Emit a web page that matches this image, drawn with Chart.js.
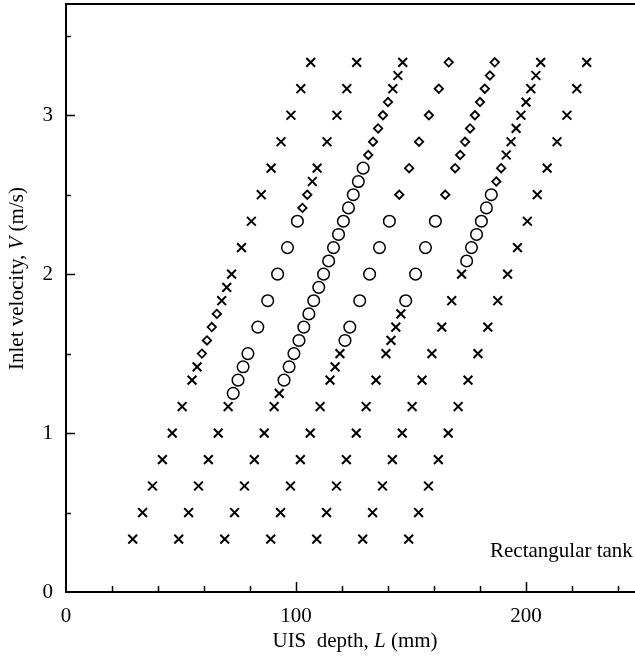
<!DOCTYPE html>
<html>
<head>
<meta charset="utf-8">
<script src="https://cdn.jsdelivr.net/npm/chart.js@4/dist/chart.umd.min.js"></script>
<style>
    html, body { margin: 0; padding: 0; background: #fff; }
    #wrap { width: 635px; height: 660px; }
</style>
</head>
<body>
<div id="wrap"><canvas id="uis-chart" width="635" height="660"></canvas></div>
<script>
// Points: UIS depth L (mm) against inlet velocity V (m/s)
// x marks
const crossL = [
    29.0, 33.3, 37.6, 41.9, 46.2, 50.5, 54.8, 57.0, 67.7, 69.9, 72.0, 76.3, 80.6, 84.9, 89.2, 93.5, 97.8, 102.1, 106.4,
    49.0, 53.3, 57.6, 61.9, 66.2, 70.5, 107.1, 109.2, 113.5, 117.8, 122.1, 126.4,
    69.0, 73.3, 77.6, 81.9, 86.2, 90.5, 92.7, 142.1, 144.3, 146.4,
    89.0, 93.3, 97.6, 101.9, 106.2, 110.5, 114.8, 117.0, 119.1,
    109.0, 113.3, 117.6, 121.9, 126.2, 130.5, 134.8, 139.1, 141.3, 143.4, 145.6,
    129.0, 133.3, 137.6, 141.9, 146.2, 150.5, 154.8, 159.1, 163.4, 167.7, 172.0, 191.4, 193.5, 195.7, 197.8, 200.0, 202.1, 204.3, 206.4,
    149.0, 153.3, 157.6, 161.9, 166.2, 170.5, 174.8, 179.1, 183.4, 187.7, 192.0, 196.3, 200.6, 204.9, 209.2, 213.5, 217.8, 222.1, 226.4,
];
const crossV = [
    0.333, 0.5, 0.667, 0.833, 1.0, 1.167, 1.333, 1.417, 1.833, 1.917, 2.0, 2.167, 2.333, 2.5, 2.667, 2.833, 3.0, 3.167, 3.333,
    0.333, 0.5, 0.667, 0.833, 1.0, 1.167, 2.583, 2.667, 2.833, 3.0, 3.167, 3.333,
    0.333, 0.5, 0.667, 0.833, 1.0, 1.167, 1.25, 3.167, 3.25, 3.333,
    0.333, 0.5, 0.667, 0.833, 1.0, 1.167, 1.333, 1.417, 1.5,
    0.333, 0.5, 0.667, 0.833, 1.0, 1.167, 1.333, 1.5, 1.583, 1.667, 1.75,
    0.333, 0.5, 0.667, 0.833, 1.0, 1.167, 1.333, 1.5, 1.667, 1.833, 2.0, 2.75, 2.833, 2.917, 3.0, 3.083, 3.167, 3.25, 3.333,
    0.333, 0.5, 0.667, 0.833, 1.0, 1.167, 1.333, 1.5, 1.667, 1.833, 2.0, 2.167, 2.333, 2.5, 2.667, 2.833, 3.0, 3.167, 3.333,
];

// open diamonds
const diamondL = [
    59.1, 61.3, 63.4, 65.6,
    102.8, 104.9,
    131.4, 133.5, 135.7, 137.8, 140.0,
    144.9, 149.2, 153.5, 157.8, 162.1, 166.4,
    164.9, 169.2, 171.4, 173.5, 175.7, 177.8, 180.0, 182.1, 184.3, 186.4,
    187.1, 189.2,
];
const diamondV = [
    1.5, 1.583, 1.667, 1.75,
    2.417, 2.5,
    2.75, 2.833, 2.917, 3.0, 3.083,
    2.5, 2.667, 2.833, 3.0, 3.167, 3.333,
    2.5, 2.667, 2.75, 2.833, 2.917, 3.0, 3.083, 3.167, 3.25, 3.333,
    2.583, 2.667,
];

// open circles
const circleL = [
    72.7, 74.8, 77.0, 79.1, 83.4, 87.7, 92.0, 96.3, 100.6,
    94.8, 97.0, 99.1, 101.3, 103.4, 105.6, 107.7, 109.9, 112.0, 114.2, 116.3, 118.5, 120.6, 122.8, 124.9, 127.1, 129.2,
    121.3, 123.4, 127.7, 132.0, 136.3, 140.6,
    147.7, 152.0, 156.3, 160.6,
    174.2, 176.3, 178.5, 180.6, 182.8, 184.9,
];
const circleV = [
    1.25, 1.333, 1.417, 1.5, 1.667, 1.833, 2.0, 2.167, 2.333,
    1.333, 1.417, 1.5, 1.583, 1.667, 1.75, 1.833, 1.917, 2.0, 2.083, 2.167, 2.25, 2.333, 2.417, 2.5, 2.583, 2.667,
    1.583, 1.667, 1.833, 2.0, 2.167, 2.333,
    1.833, 2.0, 2.167, 2.333,
    2.083, 2.167, 2.25, 2.333, 2.417, 2.5,
];

// labelled ticks
const xTickLabels = [0, 100, 200];
const yTickLabels = [0, 1, 2, 3];

const serif = '"Liberation Serif", "DejaVu Serif", serif';
const fontSize = 21;

const toPoints = (xs, ys) => xs.map((v, i) => ({ x: v, y: ys[i] }));

// inward ticks and the top frame line
const frameTicks = {
    id: "frameTicks",
    afterDraw(chart) {
        const { ctx, chartArea, scales } = chart;
        const { x, y } = scales;
        ctx.save();
        ctx.strokeStyle = "#000";
        ctx.lineWidth = 2;
        ctx.beginPath();
        ctx.moveTo(chartArea.left - 1, chartArea.top);
        ctx.lineTo(chartArea.right, chartArea.top);
        ctx.stroke();

        ctx.lineWidth = 1.5;
        x.ticks.forEach((t) => {
            if (t.value === 0) return;
            const px = Math.round(x.getPixelForValue(t.value)) + 0.5;
            const len = t.value % 100 === 0 ? 10 : 6;
            ctx.beginPath();
            ctx.moveTo(px, chartArea.bottom);
            ctx.lineTo(px, chartArea.bottom - len);
            ctx.stroke();
        });
        y.ticks.forEach((t) => {
            if (t.value === 0) return;
            const py = Math.round(y.getPixelForValue(t.value)) + 0.5;
            const len = Number.isInteger(t.value) ? 9 : 5;
            ctx.beginPath();
            ctx.moveTo(chartArea.left, py);
            ctx.lineTo(chartArea.left + len, py);
            ctx.stroke();
        });
        ctx.restore();
    },
};

// draws a run of text pieces, some of them italic
const drawRuns = (ctx, runs, x, y) => {
    let cx = x;
    runs.forEach(([text, italic]) => {
        ctx.font = `${italic ? "italic " : ""}${fontSize}px ${serif}`;
        ctx.fillText(text, cx, y);
        cx += ctx.measureText(text).width;
    });
};

const runsWidth = (ctx, runs) =>
    runs.reduce((w, [text, italic]) => {
        ctx.font = `${italic ? "italic " : ""}${fontSize}px ${serif}`;
        return w + ctx.measureText(text).width;
    }, 0);

const axisTitles = {
    id: "axisTitles",
    afterDraw(chart) {
        const { ctx } = chart;
        ctx.save();
        ctx.fillStyle = "#000";
        ctx.textBaseline = "alphabetic";
        ctx.textAlign = "left";

        const xRuns = [["UIS  depth, ", false], ["L", true], [" (mm)", false]];
        const xw = runsWidth(ctx, xRuns);
        drawRuns(ctx, xRuns, 355 - xw / 2, 647);

        const yRuns = [["Inlet velocity, ", false], ["V", true], [" (m/s)", false]];
        ctx.translate(23, 370);
        ctx.rotate(-Math.PI / 2);
        drawRuns(ctx, yRuns, 0, 0);
        ctx.setTransform(1, 0, 0, 1, 0, 0);

        ctx.font = `${fontSize}px ${serif}`;
        ctx.fillText("Rectangular tank", 490, 557);
        ctx.restore();
    },
};

const markerBase = {
    borderColor: "#000",
    backgroundColor: "rgba(0,0,0,0)",
    showLine: false,
    clip: false,
};

const ctx = document.getElementById("uis-chart");

new Chart(ctx, {
    type: "scatter",
    data: {
        datasets: [
            {
                ...markerBase,
                label: "cross",
                data: toPoints(crossL, crossV),
                pointStyle: "crossRot",
                pointRadius: 6.2,
                pointBorderWidth: 2,
            },
            {
                ...markerBase,
                label: "diamond",
                data: toPoints(diamondL, diamondV),
                pointStyle: "rectRot",
                pointRadius: 4.2,
                pointBorderWidth: 1.8,
            },
            {
                ...markerBase,
                label: "circle",
                data: toPoints(circleL, circleV),
                pointStyle: "circle",
                pointRadius: 5.8,
                pointBorderWidth: 1.5,
            },
        ],
    },
    options: {
        responsive: false,
        animation: false,
        events: [],
        layout: {
            autoPadding: false,
            padding: { top: 4, right: 0, bottom: 0, left: 0 },
        },
        scales: {
            x: {
                type: "linear",
                min: 0,
                max: 247.4,
                afterFit: (scale) => {
                    scale.height = 68;
                    scale.paddingLeft = 0;
                    scale.paddingRight = 0;
                },
                border: { display: true, color: "#000", width: 2 },
                grid: { display: false, drawTicks: false },
                ticks: {
                    stepSize: 20,
                    autoSkip: false,
                    includeBounds: false,
                    maxRotation: 0,
                    padding: 12,
                    color: "#000",
                    font: { family: serif, size: fontSize },
                    callback: (value) =>
                        xTickLabels.includes(value) ? String(value) : "",
                },
            },
            y: {
                type: "linear",
                min: 0,
                max: 3.7,
                afterFit: (scale) => {
                    scale.width = 66;
                    scale.paddingTop = 0;
                    scale.paddingBottom = 0;
                },
                border: { display: true, color: "#000", width: 2 },
                grid: { display: false, drawTicks: false },
                ticks: {
                    stepSize: 0.5,
                    autoSkip: false,
                    includeBounds: false,
                    padding: 13,
                    color: "#000",
                    font: { family: serif, size: fontSize },
                    callback: (value) =>
                        yTickLabels.includes(value) ? String(value) : "",
                },
            },
        },
        plugins: {
            legend: { display: false },
            tooltip: { enabled: false },
        },
    },
    plugins: [frameTicks, axisTitles],
});
</script>
</body>
</html>
